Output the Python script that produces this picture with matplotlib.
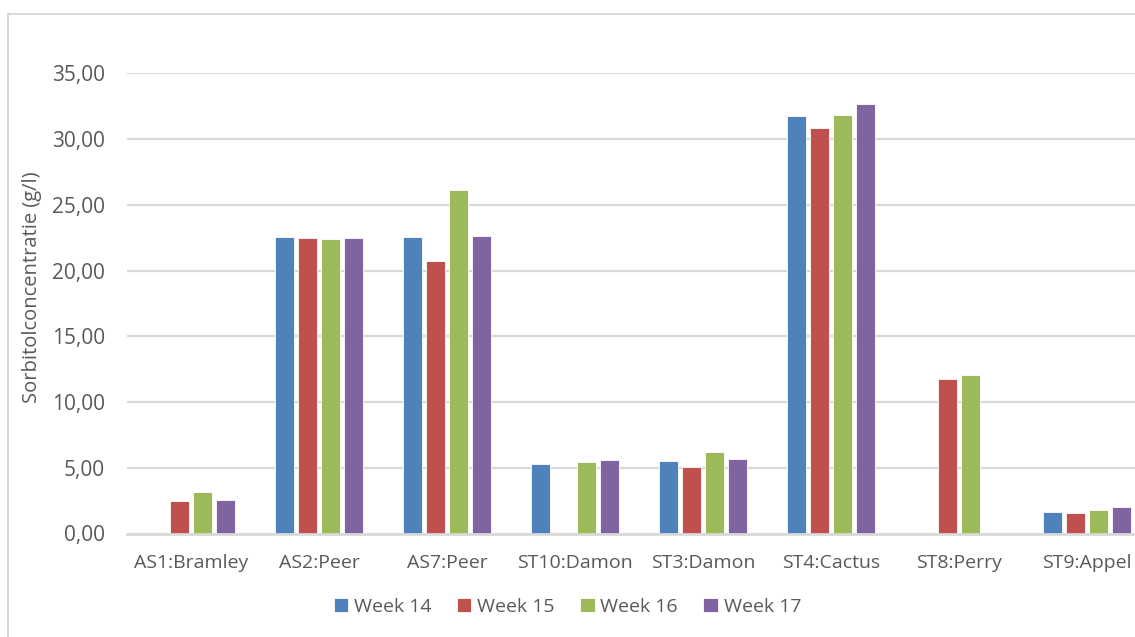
import numpy as np
import matplotlib
matplotlib.use("Agg")
import matplotlib.pyplot as plt
from matplotlib.patches import Rectangle
from matplotlib.ticker import FuncFormatter

# sorbitol per variety, weekly samples (g/l); nan = no sample
varieties = ["AS1:Bramley", "AS2:Peer", "AS7:Peer", "ST10:Damon",
             "ST3:Damon", "ST4:Cactus", "ST8:Perry", "ST9:Appel"]
weeks = ["Week 14", "Week 15", "Week 16", "Week 17"]
week14 = [np.nan, 22.55, 22.55, 5.31, 5.51, 31.74, np.nan, 1.60]
week15 = [2.49, 22.48, 20.71, np.nan, 5.05, 30.81, 11.76, 1.53]
week16 = [3.14, 22.42, 26.10, 5.43, 6.20, 31.84, 12.06, 1.81]
week17 = [2.56, 22.48, 22.65, 5.62, 5.64, 32.63, np.nan, 2.04]
yticks = [0, 5, 10, 15, 20, 25, 30, 35]

colors = ["#4F81BD", "#C0504D", "#9BBB59", "#8064A2"]
TXT = "#595959"
GRID = "#d9d9d9"
FS = 14
plt.rcParams["font.family"] = ["Open Sans", "DejaVu Sans"]

W, H = 1135, 637
fig = plt.figure(figsize=(W / 100, H / 100), dpi=100)

# plot area: left edge at x=127, baseline at y=533.5, 35-line at y=73
left, base, top = 127, 533.5, 73.3
ax = fig.add_axes([left / W, (H - base) / H, (W - left) / W, (base - top) / H])

x = np.arange(len(varieties))
step, bw = 0.18, 0.145
for i, (vals, name) in enumerate(zip([week14, week15, week16, week17], weeks)):
    ax.bar(x + (i - 1.5) * step, vals, width=bw, color=colors[i],
           edgecolor="white", linewidth=0.6, label=name, zorder=3)

cat_px = 128.0
ax.set_xlim(-0.5, -0.5 + (W - left) / cat_px)
ax.set_ylim(0, 35)
ax.set_yticks(yticks)
ax.yaxis.set_major_formatter(FuncFormatter(lambda v, _: f"{v:.2f}".replace(".", ",")))
ax.set_xticks(x)
ax.set_xticklabels(varieties)
ax.tick_params(axis="y", length=0, pad=16, labelsize=15, labelcolor=TXT)
ax.tick_params(axis="x", length=0, pad=15, labelsize=FS, labelcolor=TXT)
ax.grid(axis="y", color=GRID, linewidth=1.6, zorder=0)
for s in ["top", "right", "left"]:
    ax.spines[s].set_visible(False)
ax.spines["bottom"].set_color(GRID)
ax.spines["bottom"].set_linewidth(2)
ax.spines["bottom"].set_zorder(4)

fig.text(32 / W, 1 - 287 / H, "Sorbitolconcentratie (g/l)", rotation=90,
         ha="center", va="center", fontsize=14.5, color=TXT)

fig.legend(loc="center", bbox_to_anchor=(0.5, 1 - 607 / H), ncol=4,
           frameon=False, fontsize=FS, handlelength=0.75, handleheight=0.75,
           handletextpad=0.3, columnspacing=1.3, labelcolor=TXT)

# chart-area frame (runs off the right and bottom edges)
fig.patches.append(Rectangle((8 / W, -0.5), 2, 1.5 - 14 / H,
                             transform=fig.transFigure, fill=False,
                             edgecolor=GRID, linewidth=1.5))

fig.savefig("out.png", dpi=100)
